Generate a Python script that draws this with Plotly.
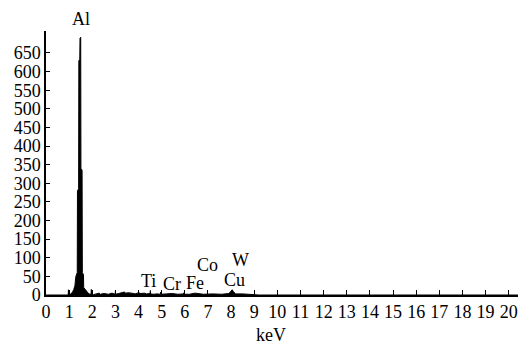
import plotly.graph_objects as go

# EDS spectrum (energy in keV, counts)
energy_kev = [0.00, 0.90, 0.96, 0.97, 0.98, 1.05, 1.15, 1.20, 1.25, 1.29, 1.33, 1.35, 1.36, 1.41,
              1.42, 1.46, 1.47, 1.50, 1.51, 1.56, 1.57, 1.62, 1.63, 1.70, 1.76, 1.85, 1.95, 1.96,
              1.97, 2.05, 2.20, 2.30, 2.35, 2.50, 2.62, 2.70, 2.85, 2.99, 3.00, 3.01, 3.15, 3.30,
              3.38, 3.45, 3.55, 3.70, 3.85, 4.00, 4.10, 4.25, 4.35, 4.50, 4.51, 4.52, 4.65, 4.80,
              4.95, 4.96, 4.97, 5.20, 5.45, 5.70, 5.95, 5.96, 5.97, 6.20, 6.45, 6.80, 7.20, 7.60,
              7.90, 8.00, 8.05, 8.10, 8.20, 8.50, 8.80, 9.20, 20.40]
counts = [0, 0, 0, 14, 0, 2, 8, 15, 25, 50, 60, 60, 280, 285,
          630, 632, 690, 692, 340, 335, 60, 55, 20, 15, 8, 3, 2, 15,
          2, 1, 3, 5, 2, 4, 3, 2, 5, 2, 10, 2, 4, 7,
          8, 5, 6, 5, 3, 6, 4, 5, 3, 4, 12, 3, 2, 3,
          2, 8, 2, 3, 4, 2, 3, 6, 2, 2, 5, 2, 3, 2,
          4, 10, 14, 9, 3, 3, 2, 0, 0]

element_labels = ["Ti", "Cr", "Fe", "Co", "W", "Cu"]
label_kev = [4.42, 5.44, 6.45, 6.96, 8.40, 8.14]
label_counts = [38, 30, 32, 81, 94, 41]
peak_label = "Al"
peak_kev = 1.50

x_ticks = list(range(0, 21))
y_ticks = list(range(0, 651, 50))

FONT = "Liberation Serif, Times New Roman, Times, serif"
FS = 18

fig = go.Figure()
fig.add_trace(go.Scatter(
    x=energy_kev, y=counts, mode="lines",
    line=dict(color="black", width=1),
    fill="tozeroy", fillcolor="black",
    hoverinfo="skip", showlegend=False,
))

for lab, xk, yc in zip(element_labels, label_kev, label_counts):
    fig.add_annotation(x=xk, y=yc, xref="x", yref="y", text=lab, showarrow=False,
                       xanchor="center", yanchor="middle", borderpad=0,
                       font=dict(family=FONT, size=FS, color="black"))

fig.add_annotation(x=peak_kev, y=1.046, xref="x", yref="paper", text=peak_label,
                   showarrow=False, xanchor="center", yanchor="middle", borderpad=0,
                   font=dict(family=FONT, size=FS, color="black"))

fig.add_annotation(x=0.477, y=-0.152, xref="paper", yref="paper", text="keV",
                   showarrow=False, xanchor="center", yanchor="middle", borderpad=0,
                   font=dict(family=FONT, size=FS, color="black"))

# page body adds an 8px margin, so the figure is sized/margined to compensate
fig.update_layout(
    width=523, height=340,
    margin=dict(l=38, r=13, t=23, b=53),
    paper_bgcolor="white", plot_bgcolor="white",
    font=dict(family=FONT, size=FS, color="black"),
    showlegend=False,
)
fig.update_xaxes(
    range=[0, 20.4], tickvals=x_ticks, ticktext=[str(v) for v in x_ticks],
    tickangle=0, ticks="inside", ticklen=5, tickcolor="black", tickwidth=1,
    showline=True, linecolor="black", linewidth=1.5, showgrid=False, zeroline=False,
    tickfont=dict(family=FONT, size=FS, color="black"), automargin=False,
)
fig.update_yaxes(
    range=[0, 709], tickvals=y_ticks, ticktext=[str(v) for v in y_ticks],
    ticks="inside", ticklen=4, tickcolor="black", tickwidth=1,
    showline=True, linecolor="black", linewidth=1.5, showgrid=False, zeroline=False,
    tickfont=dict(family=FONT, size=FS, color="black"), automargin=False,
)

fig.write_html("out.html")
